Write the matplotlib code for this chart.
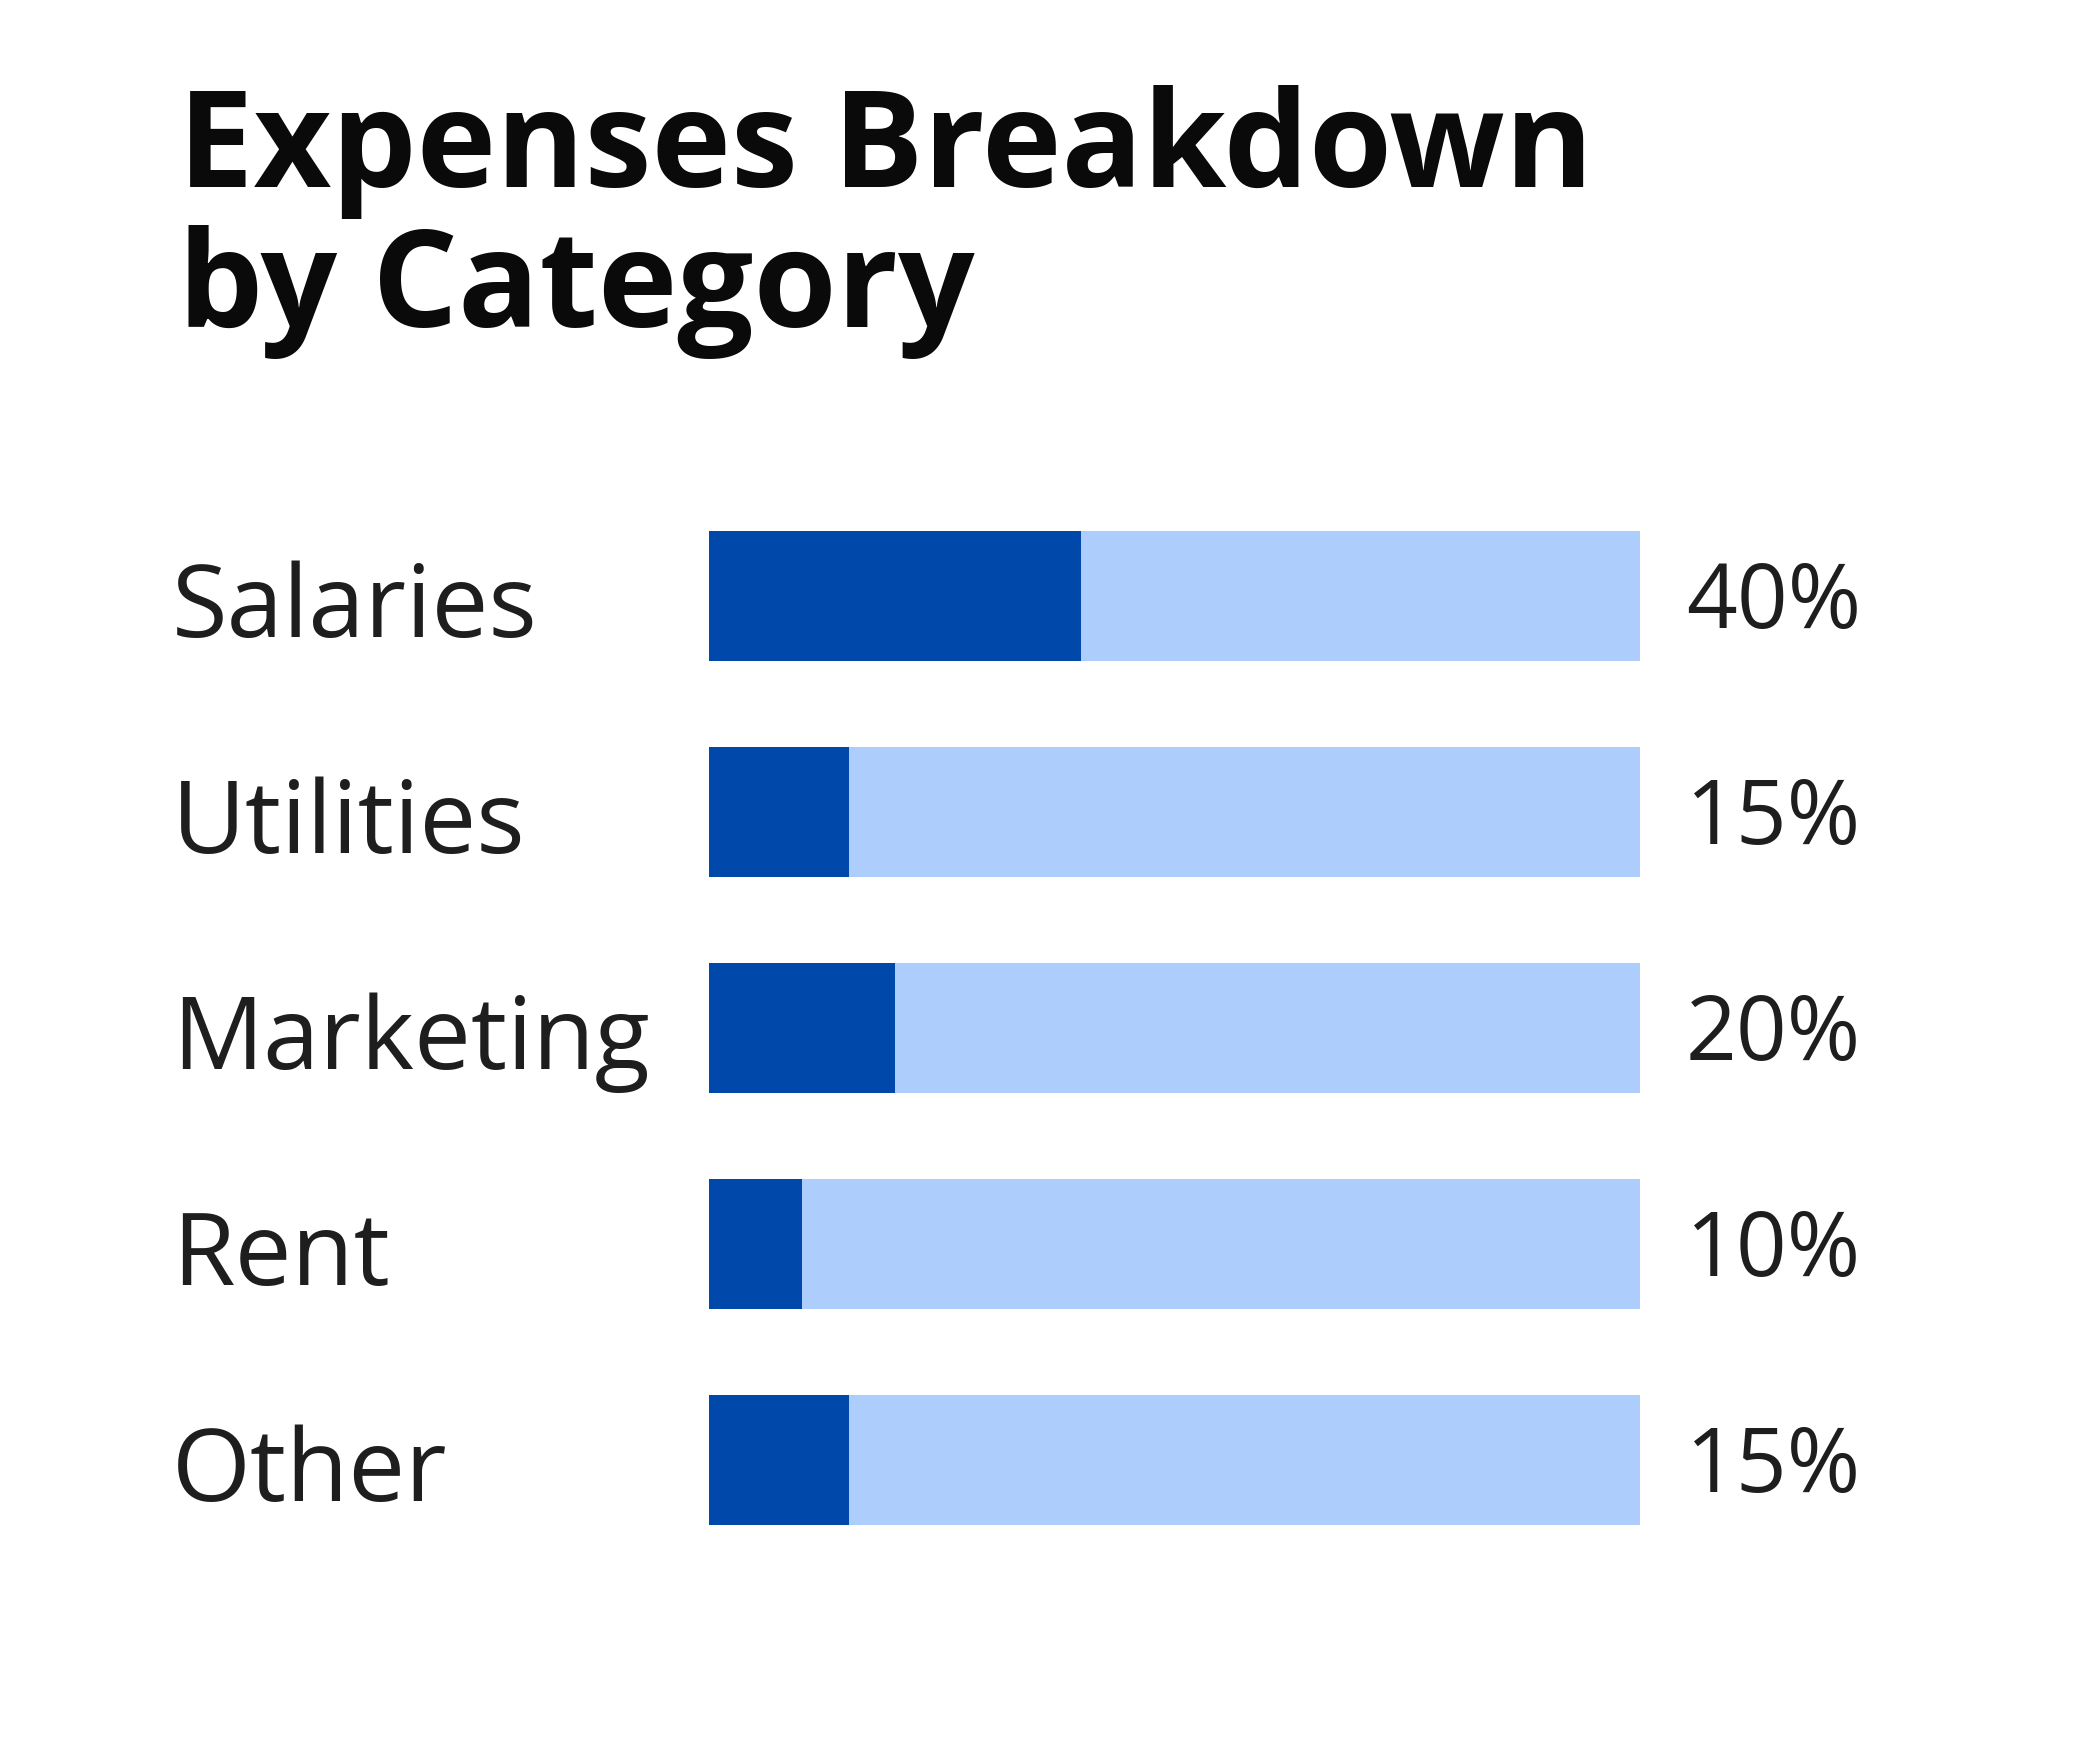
import matplotlib
matplotlib.use("Agg")
import matplotlib.pyplot as plt

# ---- data ----
categories = ["Salaries", "Utilities", "Marketing", "Rent", "Other"]
values = [40, 15, 20, 10, 15]
value_labels = ["40%", "15%", "20%", "10%", "15%"]
track_max = [100, 100, 100, 100, 100]
title_lines = ["Expenses Breakdown", "by Category"]

# ---- style ----
DARK = "#0049AB"
LIGHT = "#ADCDFC"
TXT = "#1e1e1e"
FONT = ["Open Sans", "DejaVu Sans"]

W, H, DPI = 2100, 1756, 100
fig = plt.figure(figsize=(W / DPI, H / DPI), dpi=DPI)
fig.patch.set_facecolor("white")

# axes placed in pixel terms
x0, x1 = 709, 1640
y_top, y_bot = 489, 1569
ax = fig.add_axes([x0 / W, 1 - y_bot / H, (x1 - x0) / W, (y_bot - y_top) / H])
ax.set_xlim(0, 100)
ax.set_ylim(len(categories) - 0.5, -0.5)
ax.axis("off")

ypos = list(range(len(categories)))
bar_h = 130 / 216
ax.barh(ypos, track_max, height=bar_h, color=LIGHT, linewidth=0)
ax.barh(ypos, values, height=bar_h, color=DARK, linewidth=0)

row_px = (y_bot - y_top) / len(categories)
for i, (cat, lab) in enumerate(zip(categories, value_labels)):
    ax.text((172 - x0) / (x1 - x0), i + 40 / row_px, cat,
            transform=ax.get_yaxis_transform(), ha="left", va="baseline",
            fontsize=73, family=FONT, color=TXT)
    ax.text((1686 - x0) / (x1 - x0), i + 31 / row_px, lab,
            transform=ax.get_yaxis_transform(), ha="left", va="baseline",
            fontsize=64, family=FONT, color=TXT)

fig.text(178 / W, 1 - 187 / H, title_lines[0], ha="left", va="baseline",
         fontsize=97, fontweight="bold", family=FONT, color="#0a0a0a")
fig.text(178 / W, 1 - 327 / H, title_lines[1], ha="left", va="baseline",
         fontsize=97, fontweight="bold", family=FONT, color="#0a0a0a")

fig.savefig("out.png", dpi=DPI, facecolor="white")
